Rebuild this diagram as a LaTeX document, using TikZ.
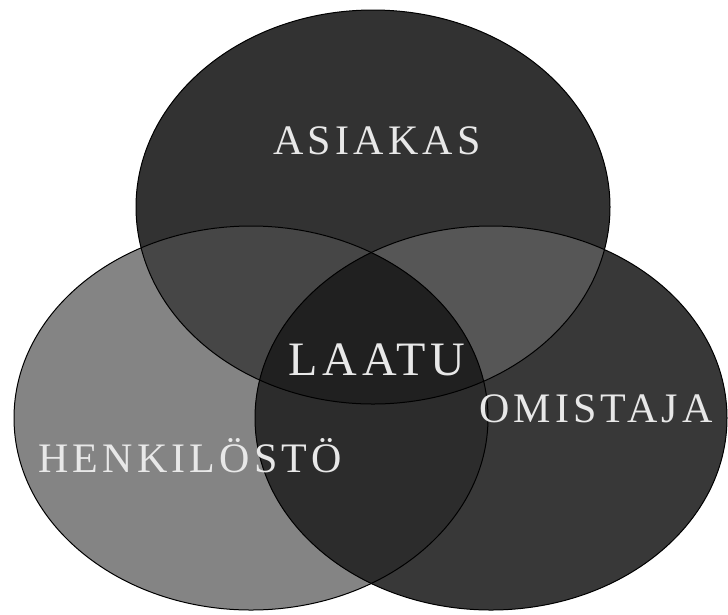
\documentclass[tikz,border=0pt]{standalone}
\usepackage{fontspec}
\setmainfont{Liberation Serif}
\newfontfamily\vennfont[LetterSpace=10]{Liberation Serif}
\usepackage{xcolor}
\definecolor{topcolor}{RGB}{50,50,50}
\definecolor{leftcolor}{RGB}{132,132,132}
\definecolor{rightcolor}{RGB}{56,56,56}
\definecolor{tlcolor}{RGB}{70,70,70}
\definecolor{trcolor}{RGB}{86,86,86}
\definecolor{lrcolor}{RGB}{44,44,44}
\definecolor{allcolor}{RGB}{32,32,32}
\definecolor{labelcolor}{RGB}{232,232,232}
\newcommand{\asiakaspath}{(373,207) ellipse [x radius=237pt, y radius=197pt]}
\newcommand{\henkilopath}{(251,418) ellipse [x radius=237pt, y radius=192pt]}
\newcommand{\omistajapath}{(491,418) ellipse [x radius=236pt, y radius=192pt]}

\begin{document}
\begin{tikzpicture}[
    x=1pt, y=-1pt,
    label/.style={text=labelcolor, font=\vennfont\fontsize{42}{42}\selectfont, anchor=base, inner sep=0pt},
    outline/.style={draw=black, line width=1pt}
]
\useasboundingbox (0,0) rectangle (728,614);

\fill [topcolor] \asiakaspath;
\fill [leftcolor] \henkilopath;
\fill [rightcolor] \omistajapath;
\begin{scope}
  \clip \asiakaspath;
  \fill [tlcolor] \henkilopath;
  \fill [trcolor] \omistajapath;
\end{scope}
\begin{scope}
  \clip \henkilopath;
  \fill [lrcolor] \omistajapath;
  \clip \asiakaspath;
  \fill [allcolor] \omistajapath;
\end{scope}
\draw [outline] \asiakaspath;
\draw [outline] \henkilopath;
\draw [outline] \omistajapath;

\node (asiakas) [label] at (377,154) {ASIAKAS};
\node (laatu) [label, font=\vennfont\fontsize{48}{48}\selectfont] at (377,375) {LAATU};
\node (omistaja) [label] at (596,422) {OMISTAJA};
\node (henkilosto) [label] at (190,472) {HENKILÖSTÖ};
\end{tikzpicture}
\end{document}
